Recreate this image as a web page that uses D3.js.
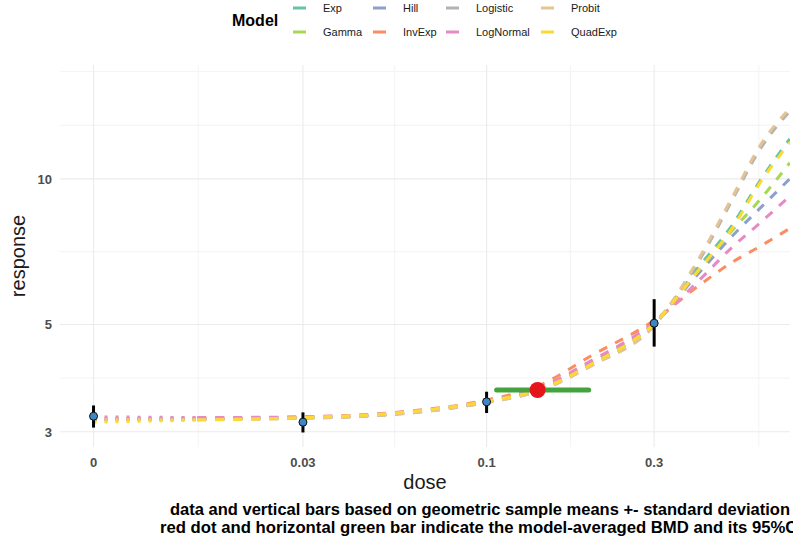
<!DOCTYPE html>
<html>
<head>
<meta charset="utf-8">
<script src="https://cdn.jsdelivr.net/npm/d3@7"></script>
<style>
body{margin:0;background:#fff;}
text{font-family:"Liberation Sans",Arial,sans-serif;}
</style>
</head>
<body>
<svg id="chart" width="793" height="540"></svg>
<script>
// model names + colours (legend order)
var models=["Exp","Gamma","Hill","InvExp","Logistic","LogNormal","Probit","QuadExp"];
var modelColors=["#66C2A5","#A6D854","#8DA0CB","#FC8D62","#B3B3B3","#E78AC3","#E5C494","#FFD92F"];

var curveDoses=[0,0.015,0.03,0.055,0.1,0.14,0.2,0.3,0.4,0.5,0.6,0.73];
var expVals      =[3.18,3.19,3.21,3.27,3.46,3.66,4.16,5.02,6.55,8.02,9.90,12.1];
var gammaVals    =[3.17,3.19,3.21,3.27,3.46,3.67,4.17,5.03,6.45,7.82,9.05,10.8];
var hillVals     =[3.18,3.19,3.21,3.27,3.46,3.67,4.18,5.03,6.36,7.61,8.69,10.0];
var invExpVals   =[3.19,3.20,3.22,3.29,3.49,3.73,4.32,5.10,6.00,6.72,7.25,7.90];
var logisticVals =[3.18,3.18,3.20,3.26,3.45,3.64,4.12,4.97,6.72,9.03,11.5,13.8];
var logNormalVals=[3.22,3.21,3.22,3.28,3.47,3.69,4.22,5.05,6.14,7.22,8.10,9.21];
var probitVals   =[3.18,3.18,3.20,3.26,3.45,3.64,4.12,4.98,6.80,9.15,11.7,14.0];
var quadExpVals  =[3.14,3.17,3.21,3.28,3.47,3.66,4.15,5.02,6.45,7.90,9.80,11.9];
var modelVals=[expVals,gammaVals,hillVals,invExpVals,logisticVals,logNormalVals,probitVals,quadExpVals];

// observed geometric means +- sd
var obsDose=[0,0.03,0.1,0.3];
var obsMean=[3.23,3.14,3.46,5.03];
var obsLow=[3.06,2.99,3.28,4.50];
var obsHigh=[3.40,3.29,3.63,5.64];

// model averaged BMD + 95% CI
var bmd=0.1397, bmdLow=0.1068, bmdHigh=0.1953, bmdResp=3.66;

var xBreaks=[0,0.03,0.1,0.3];
var xLabels=["0","0.03","0.1","0.3"];
var yBreaks=[3,5,10];
var zeroAt=0.0076; // where dose 0 sits on the log axis

var pL=60,pR=790,pT=65,pB=447;
var svg=d3.select("#chart");

var pos=function(d){return d===0?zeroAt:d;};
var x=d3.scaleLog().domain([0.0061,0.731]).range([pL,pR]);
var y=d3.scaleLog().domain([2.79,17.2]).range([pB,pT]);

// minor breaks like ggplot: breaks extended one step each side, plus midpoints (log space)
var minorOf=function(br,scale){
	var b=br.map(function(v){return Math.log10(v);});
	var bd=b[1]-b[0];
	b=[b[0]-bd].concat(b).concat([b[b.length-1]+bd]);
	var out=[b[0],b[b.length-1]];
	for(var i=0;i<b.length-1;i++){out.push((b[i]+b[i+1])/2);}
	var r=scale.range(), lo=Math.min(r[0],r[1]), hi=Math.max(r[0],r[1]);
	return out.map(function(v){return Math.pow(10,v);})
		.filter(function(v){var p=scale(v);return p>=lo&&p<=hi;});
};
var xMinor=minorOf(xBreaks.map(pos),x);
var yMinor=minorOf(yBreaks,y);

var grid=svg.append("g");
grid.selectAll(".xmin").data(xMinor).enter().append("line")
	.attr("x1",function(d){return x(d)}).attr("x2",function(d){return x(d)})
	.attr("y1",pT).attr("y2",pB).attr("stroke","#f0f0f0").attr("stroke-width",0.8);
grid.selectAll(".ymin").data(yMinor).enter().append("line")
	.attr("y1",function(d){return y(d)}).attr("y2",function(d){return y(d)})
	.attr("x1",pL).attr("x2",pR).attr("stroke","#f0f0f0").attr("stroke-width",0.8);
grid.selectAll(".xmaj").data(xBreaks).enter().append("line")
	.attr("x1",function(d){return x(pos(d))}).attr("x2",function(d){return x(pos(d))})
	.attr("y1",pT).attr("y2",pB).attr("stroke","#ebebeb").attr("stroke-width",1.1);
grid.selectAll(".ymaj").data(yBreaks).enter().append("line")
	.attr("y1",function(d){return y(d)}).attr("y2",function(d){return y(d)})
	.attr("x1",pL).attr("x2",pR).attr("stroke","#ebebeb").attr("stroke-width",1.1);

// axis labels
svg.selectAll(".xlab").data(xBreaks).enter().append("text")
	.attr("x",function(d){return x(pos(d))}).attr("y",467)
	.attr("text-anchor","middle").attr("font-size","13px").attr("font-weight","bold")
	.attr("fill","#4d4d4d").text(function(d,i){return xLabels[i]});
svg.selectAll(".ylab").data(yBreaks).enter().append("text")
	.attr("x",52).attr("y",function(d){return y(d)+5})
	.attr("text-anchor","end").attr("font-size","13px").attr("font-weight","bold")
	.attr("fill","#4d4d4d").text(function(d){return d});

svg.append("text").attr("x",425).attr("y",489).attr("text-anchor","middle")
	.attr("font-size","20px").attr("fill","#1a1a1a").text("dose");
svg.append("text").attr("transform","translate(25,256) rotate(-90)").attr("text-anchor","middle")
	.attr("font-size","20px").attr("fill","#1a1a1a").text("response");

// curves
svg.append("clipPath").attr("id","panel").append("rect")
	.attr("x",pL).attr("y",pT).attr("width",pR-pL).attr("height",pB-pT);
var curves=svg.append("g").attr("clip-path","url(#panel)");
var line=d3.line().x(function(d){return x(pos(d[0]))}).y(function(d){return y(d[1])}).curve(d3.curveMonotoneX);

for(var m=0;m<models.length;m++)
{
	var pts=curveDoses.map(function(d,i){return [d,modelVals[m][i]];});
	curves.append("path").datum(pts.slice(0,2)).attr("d",line)
		.attr("fill","none").attr("stroke",modelColors[m]).attr("stroke-width",3)
		.attr("stroke-dasharray","3,8");
	curves.append("path").datum(pts.slice(1)).attr("d",line)
		.attr("fill","none").attr("stroke",modelColors[m]).attr("stroke-width",3)
		.attr("stroke-dasharray","9,9");
}

// observations
svg.selectAll(".err").data(obsDose).enter().append("line")
	.attr("x1",function(d){return x(pos(d))}).attr("x2",function(d){return x(pos(d))})
	.attr("y1",function(d,i){return y(obsLow[i])}).attr("y2",function(d,i){return y(obsHigh[i])})
	.attr("stroke","#000").attr("stroke-width",3);
svg.selectAll(".obs").data(obsDose).enter().append("circle")
	.attr("cx",function(d){return x(pos(d))}).attr("cy",function(d,i){return y(obsMean[i])})
	.attr("r",4).attr("fill","#3C87C6").attr("stroke","#111").attr("stroke-width",1);

// BMD + CI
svg.append("line").attr("x1",x(bmdLow)).attr("x2",x(bmdHigh))
	.attr("y1",y(bmdResp)).attr("y2",y(bmdResp))
	.attr("stroke","#45A33F").attr("stroke-width",5).attr("stroke-linecap","round");
svg.append("circle").attr("cx",x(bmd)).attr("cy",y(bmdResp)).attr("r",8).attr("fill","#E4151B");

// legend
svg.append("text").attr("x",232).attr("y",26).attr("font-size","16px").attr("font-weight","bold")
	.attr("fill","#000").text("Model");
var keyX=[293,373,446,541], rowY=[8,32];
var leg=svg.selectAll(".leg").data(models).enter().append("g")
	.attr("transform",function(d,i){return "translate("+keyX[Math.floor(i/2)]+","+rowY[i%2]+")"});
leg.append("line").attr("x1",0).attr("x2",13).attr("y1",0).attr("y2",0)
	.attr("stroke",function(d,i){return modelColors[i]}).attr("stroke-width",3);
leg.append("text").attr("x",30).attr("y",4).attr("font-size","11px").attr("fill","#1a1a1a")
	.text(function(d){return d});

// caption
var caption=["data and vertical bars based on geometric sample means +- standard deviation",
	"red dot and horizontal green bar indicate the model-averaged BMD and its 95%CI"];
svg.selectAll(".cap").data(caption).enter().append("text")
	.attr("x",function(d,i){return i==0?170:160}).attr("y",function(d,i){return 515+i*18})
	.attr("font-size","16px").attr("font-weight","bold").attr("fill","#000")
	.attr("textLength",function(d,i){return i==0?620:642}).attr("lengthAdjust","spacingAndGlyphs")
	.text(function(d){return d});
</script>
</body>
</html>
